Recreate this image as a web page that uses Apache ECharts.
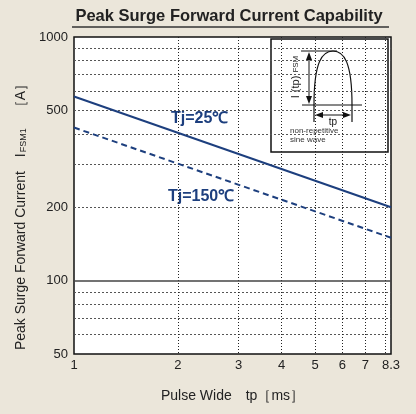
<!DOCTYPE html>
<html>
<head>
<meta charset="utf-8">
<script src="https://cdn.jsdelivr.net/npm/echarts@6/dist/echarts.min.js"></script>
<style>
  html, body { margin: 0; padding: 0; background: #ebe6da; }
  #chart { width: 416px; height: 414px; }
</style>
</head>
<body>
<div id="chart"></div>
<script>
// pulse width tp [ms]
const pulseWidth = [1, 8.3]
// peak surge current [A]
const tj25 = [570, 200]
const tj150 = [425, 150]

const xLabels = [1, 2, 3, 4, 5, 6, 7, 8.3]
const xGrid = [2, 3, 4, 5, 6, 7, 8]
const yLabels = [50, 100, 200, 500, 1000]
const yGrid = [60, 70, 80, 90, 200, 300, 400, 500, 600, 700, 800, 900]

const NAVY = '#1d3f7e'
const FONT = 'Liberation Sans, Arial, sans-serif'

const chart = echarts.init(document.getElementById('chart'))

const option = {
    backgroundColor: '#ebe6da',
    textStyle: { fontFamily: FONT },
    grid: {
        left: 74, right: 25, top: 37, bottom: 60,
        show: true,
        backgroundColor: '#fff',
        borderColor: '#111',
        borderWidth: 1.5,
    },
    xAxis: {
        type: 'log',
        logBase: 10,
        min: 1,
        max: 8.3,
        name: 'Pulse Wide　tp［ms］',
        nameLocation: 'middle',
        nameGap: 35,
        nameTextStyle: { color: '#222', fontSize: 14, fontFamily: FONT },
        axisLine: { show: false },
        axisTick: { show: false, customValues: xGrid },
        axisLabel: {
            customValues: xLabels,
            formatter: v => String(v),
            color: '#222', fontSize: 13, margin: 5,
            showMinLabel: true, showMaxLabel: true,
        },
        splitLine: { show: true, lineStyle: { color: '#222', type: [1, 2], width: 1 } },
    },
    yAxis: {
        type: 'log',
        logBase: 10,
        min: 50,
        max: 1000,
        name: 'Peak Surge Forward Current　I{sub|FSM1}　［A］',
        nameLocation: 'middle',
        nameGap: 43,
        nameTextStyle: {
            color: '#222', fontSize: 14, fontFamily: FONT,
            padding: [0, 36, 0, 0],
            rich: { sub: { fontSize: 9, verticalAlign: 'bottom', padding: [5, 0, 0, 1] } },
        },
        axisLine: { show: false },
        axisTick: { show: false, customValues: yGrid },
        axisLabel: {
            customValues: yLabels,
            formatter: v => String(v),
            color: '#222', fontSize: 13, margin: 6,
            showMinLabel: true, showMaxLabel: true,
        },
        splitLine: { show: true, lineStyle: { color: '#555', type: [2, 2], width: 1 } },
    },
    series: [
        {
            name: 'Tj=25℃',
            type: 'line',
            data: pulseWidth.map((t, i) => [t, tj25[i]]),
            symbol: 'none',
            lineStyle: { color: NAVY, width: 2 },
            z: 3,
            markLine: {
                silent: true,
                symbol: 'none',
                label: { show: false },
                lineStyle: { color: '#444', type: 'solid', width: 1.5 },
                data: [{ yAxis: 100 }],
            },
        },
        {
            name: 'Tj=150℃',
            type: 'line',
            data: pulseWidth.map((t, i) => [t, tj150[i]]),
            symbol: 'none',
            lineStyle: { color: NAVY, width: 2, type: [6, 4] },
            z: 3,
        },
    ],
    graphic: [
        // title
        {
            type: 'text', x: 229, y: 16,
            style: { text: 'Peak Surge Forward Current Capability', align: 'center', verticalAlign: 'middle', fill: '#222', font: 'bold 16.5px ' + FONT },
        },
        { type: 'line', shape: { x1: 72, y1: 27, x2: 389, y2: 27 }, style: { stroke: '#333', lineWidth: 1.5 } },
        // series labels
        { type: 'text', x: 171, y: 119, style: { text: 'Tj=25℃', verticalAlign: 'middle', fill: NAVY, font: 'bold 16px ' + FONT } },
        { type: 'text', x: 168, y: 197, style: { text: 'Tj=150℃', verticalAlign: 'middle', fill: NAVY, font: 'bold 16px ' + FONT } },
        // inset
        {
            type: 'group',
            z: 10,
            children: [
                { type: 'rect', shape: { x: 271, y: 39, width: 117, height: 113 }, style: { fill: '#fff', stroke: '#111', lineWidth: 1.5 } },
                { type: 'line', shape: { x1: 301, y1: 51, x2: 337, y2: 51 }, style: { stroke: '#111', lineWidth: 1 } },
                { type: 'line', shape: { x1: 302, y1: 105, x2: 362, y2: 105 }, style: { stroke: '#111', lineWidth: 1 } },
                { type: 'line', shape: { x1: 314, y1: 105, x2: 314, y2: 122 }, style: { stroke: '#111', lineWidth: 1.2 } },
                { type: 'line', shape: { x1: 352, y1: 105, x2: 352, y2: 122 }, style: { stroke: '#111', lineWidth: 1.2 } },
                {
                    type: 'bezierCurve',
                    shape: { x1: 314, y1: 105, cpx1: 314, cpy1: 62, cpx2: 322, cpy2: 51, x2: 333, y2: 51 },
                    style: { fill: null, stroke: '#111', lineWidth: 1.2 },
                },
                {
                    type: 'bezierCurve',
                    shape: { x1: 333, y1: 51, cpx1: 344, cpy1: 51, cpx2: 352, cpy2: 62, x2: 352, y2: 105 },
                    style: { fill: null, stroke: '#111', lineWidth: 1.2 },
                },
                // vertical arrow
                { type: 'line', shape: { x1: 309, y1: 56, x2: 309, y2: 100 }, style: { stroke: '#111', lineWidth: 1 } },
                { type: 'polygon', shape: { points: [[309, 52], [306, 60], [312, 60]] }, style: { fill: '#111' } },
                { type: 'polygon', shape: { points: [[309, 104], [306, 96], [312, 96]] }, style: { fill: '#111' } },
                {
                    type: 'text', x: 296, y: 77, rotation: Math.PI / 2,
                    style: {
                        text: 'I (tp) {s|FSM}', align: 'center', verticalAlign: 'middle',
                        font: '11px ' + FONT, fill: '#222',
                        rich: { s: { fontSize: 8, fill: '#222', fontFamily: FONT } },
                    },
                },
                // tp arrow
                { type: 'line', shape: { x1: 318, y1: 115, x2: 348, y2: 115 }, style: { stroke: '#111', lineWidth: 1 } },
                { type: 'polygon', shape: { points: [[315, 115], [323, 112], [323, 118]] }, style: { fill: '#111' } },
                { type: 'polygon', shape: { points: [[351, 115], [343, 112], [343, 118]] }, style: { fill: '#111' } },
                { type: 'text', x: 333, y: 122, style: { text: 'tp', align: 'center', verticalAlign: 'middle', font: '10px ' + FONT, fill: '#111' } },
                { type: 'text', x: 290, y: 131, style: { text: 'non-repetitive', verticalAlign: 'middle', font: '8px ' + FONT, fill: '#333' } },
                { type: 'text', x: 290, y: 140, style: { text: 'sine wave', verticalAlign: 'middle', font: '8px ' + FONT, fill: '#333' } },
            ],
        },
    ],
}

chart.setOption(option)
</script>
</body>
</html>
